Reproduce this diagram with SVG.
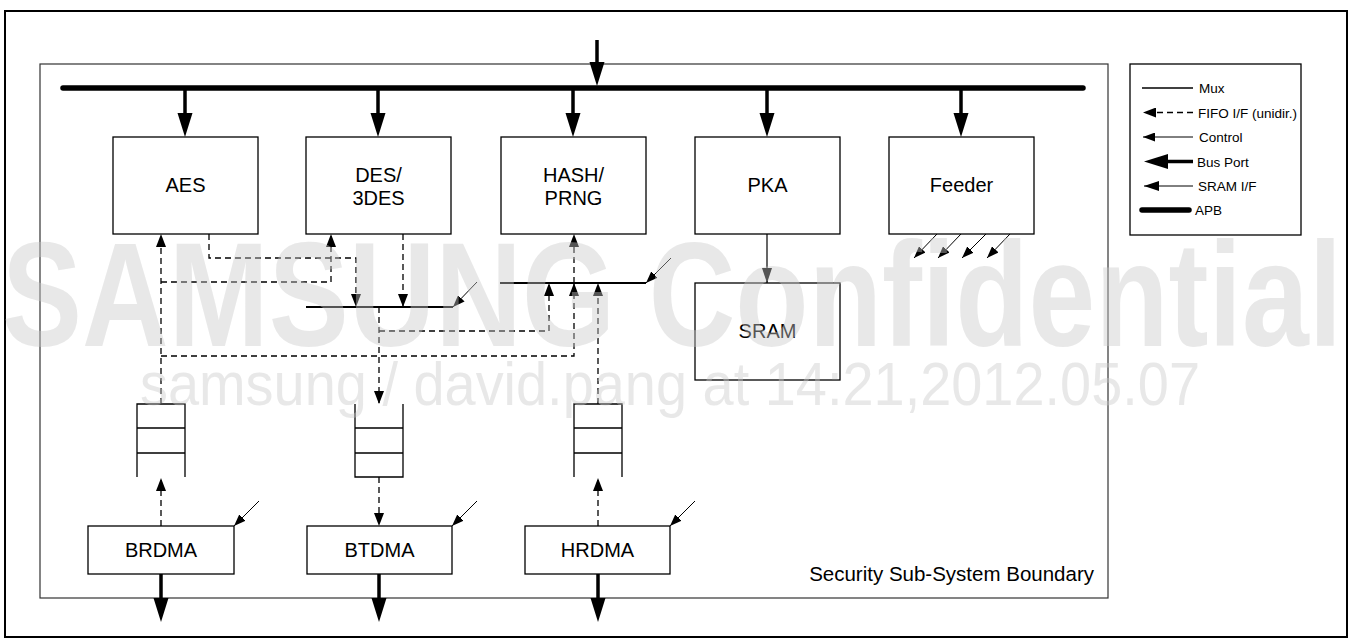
<svg xmlns="http://www.w3.org/2000/svg" width="1353" height="643" viewBox="0 0 1353 643">
<style>
 text{font-family:"Liberation Sans",Arial,sans-serif;fill:#000}
 .lbl{font-size:20px;text-anchor:middle}
 .leg{font-size:13.5px}
 .box{fill:#fff;stroke:#000;stroke-width:1.3}
 .fifo{fill:none;stroke:#000;stroke-width:1.3}
 .dash{fill:none;stroke:#000;stroke-width:1.3;stroke-dasharray:6 4}
 .ctl{fill:none;stroke:#000;stroke-width:1}
 .bus{fill:none;stroke:#000;stroke-width:3.5}
 .mux{stroke:#000;stroke-width:2}
 .apb{stroke:#000;stroke-width:5.5;stroke-linecap:round}
 .wm{fill:#c8c8c8;fill-opacity:0.42}
</style>
<defs>
 <marker id="hb" markerUnits="userSpaceOnUse" viewBox="0 0 24 16" refX="12" refY="8" markerWidth="24" markerHeight="16" orient="auto"><path d="M0,0.5 L24,8 L0,15.5z"/></marker>
 <marker id="hf" markerUnits="userSpaceOnUse" viewBox="0 0 13 10" refX="13" refY="5" markerWidth="13" markerHeight="10" orient="auto"><path d="M0,0 L13,5 L0,10z"/></marker>
 <marker id="hc" markerUnits="userSpaceOnUse" viewBox="0 0 12 9" refX="12" refY="4.5" markerWidth="12" markerHeight="9" orient="auto"><path d="M0,0 L12,4.5 L0,9z"/></marker>
 <marker id="hs" markerUnits="userSpaceOnUse" viewBox="0 0 15 10" refX="15" refY="5" markerWidth="15" markerHeight="10" orient="auto"><path d="M0,0 L15,5 L0,10z"/></marker>
</defs>
<rect x="0" y="0" width="1353" height="643" fill="#fff"/>
<rect id="frame" x="5" y="11" width="1342" height="626" fill="none" stroke="#000" stroke-width="2"/>
<g id="boundary">
 <rect x="40" y="64" width="1068" height="534" fill="none" stroke="#333" stroke-width="1.2"/>
 <text x="1094" y="581" style="font-size:20.5px;text-anchor:end">Security Sub-System Boundary</text>
</g>
<g id="aes"><rect class="box" x="113" y="137" width="145" height="97"/><text class="lbl" x="185.5" y="192">AES</text></g>
<g id="des"><rect class="box" x="306" y="137" width="145" height="97"/><text class="lbl" x="378.5" y="182">DES/</text><text class="lbl" x="378.5" y="205">3DES</text></g>
<g id="hash"><rect class="box" x="501" y="137" width="145" height="97"/><text class="lbl" x="573.5" y="182">HASH/</text><text class="lbl" x="573.5" y="205">PRNG</text></g>
<g id="pka"><rect class="box" x="695" y="137" width="145" height="97"/><text class="lbl" x="767.5" y="192">PKA</text></g>
<g id="feeder"><rect class="box" x="889" y="137" width="145" height="97"/><text class="lbl" x="961.5" y="192">Feeder</text></g>
<g id="sram"><rect class="box" x="695" y="283" width="145" height="97"/><text class="lbl" x="767.5" y="338">SRAM</text></g>
<g id="fifo-br"><path class="fifo" d="M137,477 V404 H185 V477 M137,428 H185 M137,453 H185"/></g>
<g id="fifo-bt"><path class="fifo" d="M355,404 V477 H403 V404 M355,428 H403 M355,453 H403"/></g>
<g id="fifo-hr"><path class="fifo" d="M574,477 V404 H622 V477 M574,428 H622 M574,453 H622"/></g>
<g id="brdma"><rect class="box" x="88" y="526" width="146" height="48"/><text class="lbl" x="161" y="557">BRDMA</text></g>
<g id="btdma"><rect class="box" x="307" y="526" width="145" height="48"/><text class="lbl" x="379.5" y="557">BTDMA</text></g>
<g id="hrdma"><rect class="box" x="525" y="526" width="145" height="48"/><text class="lbl" x="597.5" y="557">HRDMA</text></g>
<g id="connectors">
 <line class="apb" x1="63" y1="88" x2="1083" y2="88"/>
 <line class="bus" x1="597" y1="40" x2="597" y2="74" marker-end="url(#hb)"/>
 <line class="bus" x1="185" y1="88" x2="185" y2="125" marker-end="url(#hb)"/>
 <line class="bus" x1="378" y1="88" x2="378" y2="125" marker-end="url(#hb)"/>
 <line class="bus" x1="573" y1="88" x2="573" y2="125" marker-end="url(#hb)"/>
 <line class="bus" x1="767" y1="88" x2="767" y2="125" marker-end="url(#hb)"/>
 <line class="bus" x1="961" y1="88" x2="961" y2="125" marker-end="url(#hb)"/>
 <line class="bus" x1="161" y1="574" x2="161" y2="610" marker-end="url(#hb)"/>
 <line class="bus" x1="379" y1="574" x2="379" y2="610" marker-end="url(#hb)"/>
 <line class="bus" x1="598" y1="574" x2="598" y2="610" marker-end="url(#hb)"/>
 <line x1="767" y1="234" x2="767" y2="283" stroke="#000" stroke-width="1.2" marker-end="url(#hs)"/>
 <line class="mux" x1="306" y1="307" x2="453" y2="307"/>
 <line class="mux" x1="500" y1="283" x2="646" y2="283"/>
 <line class="ctl" x1="477" y1="282" x2="453" y2="307" marker-end="url(#hc)"/>
 <line class="ctl" x1="671" y1="258" x2="646" y2="283" marker-end="url(#hc)"/>
 <line class="ctl" x1="259" y1="501" x2="234" y2="526" marker-end="url(#hc)"/>
 <line class="ctl" x1="477" y1="501" x2="452" y2="526" marker-end="url(#hc)"/>
 <line class="ctl" x1="695" y1="501" x2="670" y2="526" marker-end="url(#hc)"/>
 <line class="ctl" x1="937" y1="234" x2="914" y2="258" marker-end="url(#hc)"/>
 <line class="ctl" x1="961" y1="234" x2="938" y2="258" marker-end="url(#hc)"/>
 <line class="ctl" x1="986" y1="234" x2="962" y2="258" marker-end="url(#hc)"/>
 <line class="ctl" x1="1010" y1="234" x2="987" y2="258" marker-end="url(#hc)"/>
 <path class="dash" d="M161,526 V478" marker-end="url(#hf)"/>
 <path class="dash" d="M161,404 V234" marker-end="url(#hf)"/>
 <path class="dash" d="M161,282 H331 V234" marker-end="url(#hf)"/>
 <path class="dash" d="M161,356 H574 V283" marker-end="url(#hf)"/>
 <path class="dash" d="M209,234 V258 H356 V307" marker-end="url(#hf)"/>
 <path class="dash" d="M403,234 V307" marker-end="url(#hf)"/>
 <path class="dash" d="M379,307 V404" marker-end="url(#hf)"/>
 <path class="dash" d="M379,331 H549 V283" marker-end="url(#hf)"/>
 <path class="dash" d="M379,477 V526" marker-end="url(#hf)"/>
 <path class="dash" d="M598,526 V478" marker-end="url(#hf)"/>
 <path class="dash" d="M598,404 V283" marker-end="url(#hf)"/>
 <path class="dash" d="M574,283 V234" marker-end="url(#hf)"/>
</g>
<g id="legend">
 <rect x="1130" y="64" width="171" height="171" fill="#fff" stroke="#000" stroke-width="1.3"/>
 <line class="mux" x1="1142" y1="88" x2="1193" y2="88" style="stroke-width:1.3"/>
 <text class="leg" x="1199" y="93">Mux</text>
 <path class="dash" d="M1193,112.5 H1143" marker-end="url(#hf)"/>
 <text class="leg" x="1198" y="117.5">FIFO I/F (unidir.)</text>
 <line class="ctl" x1="1193" y1="137" x2="1143" y2="137" marker-end="url(#hc)"/>
 <text class="leg" x="1199" y="142">Control</text>
 <line class="bus" x1="1193" y1="161.5" x2="1156" y2="161.5" marker-end="url(#hb)"/>
 <text class="leg" x="1197" y="166.5">Bus Port</text>
 <line class="ctl" x1="1193" y1="186" x2="1144" y2="186" marker-end="url(#hs)"/>
 <text class="leg" x="1198" y="191">SRAM I/F</text>
 <line class="apb" x1="1142" y1="210" x2="1189" y2="210"/>
 <text class="leg" x="1195" y="215">APB</text>
</g>
<g id="watermark">
 <text class="wm" x="2" y="346" textLength="1340" lengthAdjust="spacingAndGlyphs" style="font-size:148px;font-weight:bold">SAMSUNG Confidential</text>
 <text class="wm" x="140" y="405" textLength="1060" lengthAdjust="spacingAndGlyphs" style="font-size:62px">samsung / david.pang at 14:21,2012.05.07</text>
</g>
</svg>
